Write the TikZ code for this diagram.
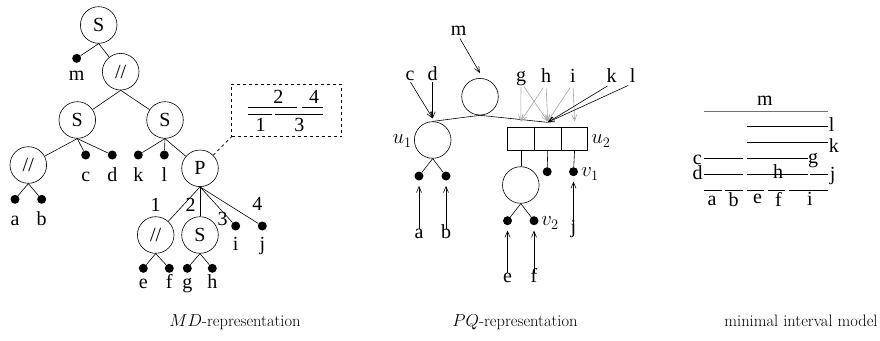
\documentclass[tikz,border=0pt]{standalone}
\usepackage{fontspec}
\newfontfamily\timesfont{Liberation Serif}
\usetikzlibrary{arrows.meta,positioning}

\begin{document}
\begin{tikzpicture}[x=1pt, y=-1pt, line width=0.6pt, font=\timesfont\fontsize{20}{24}\selectfont,
  tn/.style={circle, draw, minimum size=36.6pt, inner sep=0pt},
  lf/.style={circle, fill, minimum size=9pt, inner sep=0pt},
  lbl/.style={inner sep=0pt, anchor=base, text height=1.5ex, text depth=.25ex},
  arr/.style={->, >={Straight Barb[length=6pt,width=5pt]}},
  garr/.style={arr, draw=black!35},
  cell/.style={rectangle, draw, minimum width=26.3pt, minimum height=22.3pt, inner sep=0pt},
  captxt/.style={font=\rmfamily\fontsize{16.5}{20}\selectfont, anchor=base}]
  \useasboundingbox (0,0) rectangle (880,340);

  % MD-representation
  \node[tn] (s0) at (98.7,25) {S};
  \node[lf] (pm) at (76.7,58.3) {};
  \node[lbl] (tm) at (76.7,80) {m};
  \node[tn] (p0) at (120.7,71.7) {//};
  \node[tn] (s1) at (77.3,120) {S};
  \node[tn] (s2) at (165,120) {S};
  \node[tn] (p1) at (28.3,165) {//};
  \node[lf] (pc) at (85.7,155) {};
  \node[lf] (pd) at (112.3,155) {};
  \node[lf] (pk) at (138.3,155) {};
  \node[lf] (pl) at (164.3,155) {};
  \node[tn] (pp) at (200,168.3) {P};
  \node[lf] (pa) at (15,199.3) {};
  \node[lf] (pb) at (41.7,199.3) {};
  \node[tn] (p2) at (155.7,235) {//};
  \node[tn] (s3) at (200,235) {S};
  \node[lf] (pi) at (235.7,226) {};
  \node[lf] (pj) at (262.3,226) {};
  \node[lf] (pe) at (143.3,268.3) {};
  \node[lf] (pf) at (169.3,268.3) {};
  \node[lf] (pg) at (187.3,268.3) {};
  \node[lf] (ph) at (212.3,268.3) {};
  \foreach \n/\xx/\yy in {c/85.7/181.7, d/112.3/181.7, k/138.3/181.7, l/164.3/181.7,
      a/15/225, b/41.7/225, i/235.7/250, j/262.3/250,
      e/143.3/288.5, f/169.3/288.5, g/187.3/288.5, h/212.3/288.5}
    \node[lbl] (t\n) at (\xx,\yy) {\n};
  \foreach \a/\b in {s0/pm, s0/p0, p0/s1, p0/s2, s1/p1, s1/pc, s1/pd, s2/pk, s2/pl, s2/pp,
      p1/pa, p1/pb, pp/p2, pp/s3, pp/pi, pp/pj, p2/pe, p2/pf, s3/pg, s3/ph}
    \draw (\a.south) -- (\b);
  \node[lbl] (e1) at (155.7,211.7) {1};
  \node[lbl] (e2) at (190.7,211.7) {2};
  \node[lbl] (e3) at (222.7,225) {3};
  \node[lbl] (e4) at (257.3,210) {4};

  % interval order of the P node
  \node[draw, dashed, minimum width=110pt, minimum height=52.7pt, inner sep=0pt] (ibox) at (286.7,110.35) {};
  \draw[dashed] (pp) -- (ibox.south west);
  \draw (248.3,107) -- (297.3,107) (302.3,107) -- (322.7,107);
  \draw (248.3,114.3) -- (271.7,114.3) (275,114.3) -- (322.7,114.3);
  \node[lbl] (b2) at (278.3,103.3) {2};
  \node[lbl] (b4) at (314,103.3) {4};
  \node[lbl] (b1) at (260.7,131.7) {1};
  \node[lbl] (b3) at (299.3,131.7) {3};

  % PQ-representation
  \node[tn] (r) at (480,96.7) {};
  \node[tn] (u1) at (432.7,140) {};
  \node[anchor=east, inner sep=0pt] (tu1) at (412,141) {$u_1$};
  \node[cell] (q1) at (520.8,138.8) {};
  \node[cell, right=0pt of q1] (q2) {};
  \node[cell, right=0pt of q2] (q3) {};
  \node[anchor=west, inner sep=0pt] (tu2) at (591,141) {$u_2$};
  \coordinate (qa) at ([yshift=5pt]q2.north);
  \draw (r.south) -- (u1.north);
  \draw (r.south) -- (qa);
  \node[tn] (w) at (520.8,185) {};
  \node[lf] (pq) at (547.2,171.7) {};
  \node[lf] (v1) at (573.5,171.7) {};
  \node[anchor=west, inner sep=0pt] (tv1) at (581,174) {$v_1$};
  \draw (q1.south) -- (w);
  \draw (q2.south) -- (pq);
  \draw (q3.south) -- (v1);
  \node[lf] (qa1) at (419,176) {};
  \node[lf] (qb1) at (446,176) {};
  \draw (u1.south) -- (qa1);
  \draw (u1.south) -- (qb1);
  \node[lf] (qe1) at (507.5,220.7) {};
  \node[lf] (qf1) at (534,220.7) {};
  \node[anchor=west, inner sep=0pt] (tv2) at (541,223) {$v_2$};
  \draw (w.south) -- (qe1);
  \draw (w.south) -- (qf1);
  % leaves pointing up
  \node[lbl] (ua) at (419,238.3) {a};
  \node[lbl] (ub) at (446,238.3) {b};
  \node[lbl] (ue) at (507.5,282.7) {e};
  \node[lbl] (uf) at (534,282.7) {f};
  \node[lbl] (uj) at (573.5,233) {j};
  \foreach \a/\b in {ua/qa1, ub/qb1, ue/qe1, uf/qf1, uj/v1}
    \draw[arr, shorten <=2.5pt, shorten >=5pt] (\a) -- (\b);
  % leaves pointing down
  \node[lbl] (uc) at (410,80) {c};
  \node[lbl] (ud) at (432.7,80) {d};
  \node[lbl] (um) at (458.7,35) {m};
  \node[lbl] (ug) at (521,81) {g};
  \node[lbl] (uh) at (546,82) {h};
  \node[lbl] (ui) at (573,82) {i};
  \node[lbl] (uk) at (611.7,82) {k};
  \node[lbl] (ul) at (632.7,82) {l};
  \draw[arr, shorten <=1pt] (uc.south) -- ([yshift=3pt]u1.north);
  \draw[arr, shorten <=1pt] (ud.south) -- ([yshift=3pt]u1.north);
  \draw[arr, shorten <=2.5pt] (um.south) -- ([yshift=5pt]r.north);
  \draw[garr, shorten <=5pt] (ug.south) -- ([yshift=6pt]q1.north);
  \draw[garr, shorten <=5pt] (ug.south) -- ([yshift=6pt]q2.north);
  \draw[garr, shorten <=5pt] (uh.south) -- ([yshift=6pt]q1.north);
  \draw[garr, shorten <=5pt] (uh.south) -- ([yshift=6pt]q2.north);
  \draw[garr, shorten <=5pt] (ui.south) -- ([yshift=6pt]q2.north);
  \draw[garr, shorten <=5pt] (ui.south) -- ([yshift=6pt]q3.north);
  \draw[arr, shorten <=5pt] (uk.south) -- (qa);
  \draw[arr, shorten <=5pt] (ul.south) -- (qa);

  % minimal interval model
  \draw[black!55] (704.3,111) -- (828.3,111);
  \draw (746.7,126.7) -- (828.3,126.7);
  \draw (746.7,142.3) -- (828.3,142.3);
  \draw (704.3,158.3) -- (742.7,158.3) (746.7,158.3) -- (808.3,158.3);
  \draw (704.3,174) -- (742.7,174) (746.7,174) -- (808,174) (810.3,174) -- (827.7,174);
  \draw (704.3,190) -- (721.7,190) (725,190) -- (742.7,190) (746.7,190) -- (764,190)
        (767.7,190) -- (785.3,190) (789,190) -- (827.7,190);
  \node[lbl] (im) at (765,105) {m};
  \node[lbl, anchor=base west] (il) at (828.5,131) {l};
  \node[lbl, anchor=base west] (ik) at (828.5,152) {k};
  \node[inner sep=0pt, anchor=base east] (ic) at (702,164) {c};
  \node[inner sep=0pt, anchor=base east] (id) at (703,179.5) {d};
  \node[lbl] (ig) at (813,163) {g};
  \node[lbl] (ih) at (778,178) {h};
  \node[lbl, anchor=base west] (ij) at (829.5,180) {j};
  \node[lbl] (ia) at (712,205) {a};
  \node[lbl] (ib) at (733.5,206) {b};
  \node[lbl] (ie) at (757.5,203.5) {e};
  \node[lbl] (if) at (778.5,206) {f};
  \node[lbl] (ii) at (810,205) {i};

  % captions
  \node[captxt] (c1) at (235,326) {$MD$-representation};
  \node[captxt] (c2) at (515,326) {$PQ$-representation};
  \node[captxt] (c3) at (801,326) {minimal interval model};
\end{tikzpicture}
\end{document}
